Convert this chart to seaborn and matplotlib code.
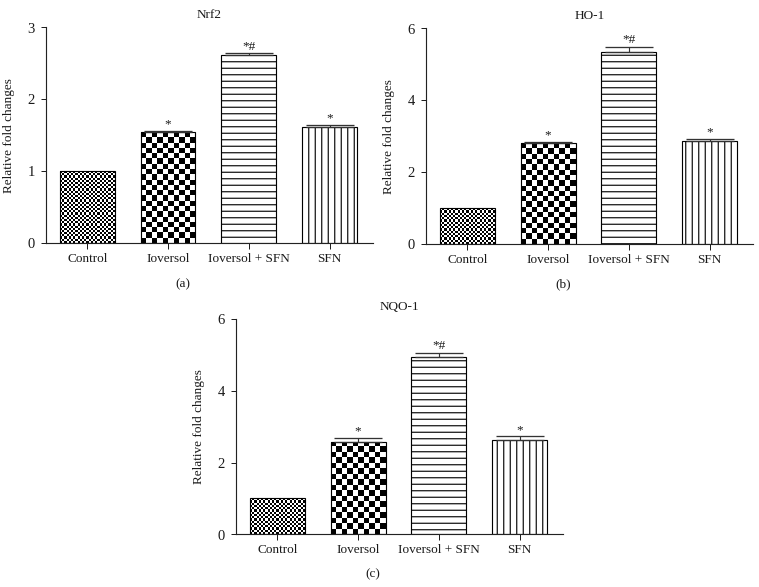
import numpy as np
import matplotlib
matplotlib.use("Agg")
import matplotlib.pyplot as plt
import seaborn as sns

# Data
groups = ['Control', 'Ioversol', 'Ioversol + SFN', 'SFN']
stars = ['', '*', '*#', '*']

nrf2 = [1.0, 1.54, 2.61, 1.61]
nrf2_err = [0.0, 0.02, 0.03, 0.03]
ho1 = [1.0, 2.80, 5.33, 2.86]
ho1_err = [0.0, 0.03, 0.16, 0.06]
nqo1 = [1.0, 2.57, 4.94, 2.64]
nqo1_err = [0.0, 0.11, 0.12, 0.09]

DPI = 117
sns.set_style("ticks")
plt.rcParams['font.family'] = ['Liberation Serif', 'DejaVu Serif']
plt.rcParams['hatch.linewidth'] = 0.7
plt.rcParams['hatch.color'] = 'black'

fig = plt.figure(figsize=(759.3 / DPI, 587.3 / DPI), dpi=DPI)
txt = '#1a1a1a'
fs = 8.2


def checker(ax, patch, cell_px):
    # fill a bar with a black/white checkerboard, clipped to the bar
    x0, y0 = patch.get_x(), patch.get_y()
    x1, y1 = x0 + patch.get_width(), y0 + patch.get_height()
    (px0, py0), (px1, py1) = ax.transData.transform([(x0, y0), (x1, y1)])
    nx = max(1, int(round(abs(px1 - px0) / cell_px)))
    ny = max(1, int(round(abs(py1 - py0) / cell_px)))
    ii, jj = np.indices((ny, nx))
    board = (ii + jj) % 2
    im = ax.imshow(board, cmap='gray', extent=(x0, x1, y0, y1), origin='lower',
                   interpolation='nearest', aspect='auto', zorder=patch.get_zorder() - 0.1)
    im.set_clip_path(patch)
    patch.set_facecolor('none')


def panel(rect, vals, errs, title, ymax, yticks, label, label_x, label_y):
    ax = fig.add_axes(rect)
    sns.barplot(x=groups, y=vals, ax=ax, color='white', edgecolor='black',
                linewidth=0.7, width=0.68, errorbar=None)
    ax.set_xlim(-0.51, 3.54)
    ax.set_ylim(0, ymax)
    ax.set_yticks(yticks)

    bars = ax.patches
    checker(ax, bars[0], 2.2)
    checker(ax, bars[1], 5.3)
    bars[2].set_hatch('---')
    bars[3].set_hatch('|||')

    for b, v, e, s in zip(bars, vals, errs, stars):
        cx = b.get_x() + b.get_width() / 2
        if e > 0:
            ax.errorbar(cx, v, yerr=[[0], [e]], fmt='none', ecolor='#333333',
                        elinewidth=0.7, capsize=15, capthick=0.8, zorder=5)
        if s:
            ax.annotate(s, (cx, v + e), xytext=(0, 0.5), textcoords='offset points',
                        ha='center', va='bottom', fontsize=fs, color=txt)

    sns.despine(ax=ax)
    for sp in ['left', 'bottom']:
        ax.spines[sp].set_linewidth(0.7)
        ax.spines[sp].set_color('#222222')
    ax.tick_params(axis='y', length=3, width=0.6, pad=4, labelsize=fs + 0.8, colors=txt)
    ax.tick_params(axis='x', length=3.5, width=0.6, pad=2.5, labelsize=fs, colors=txt)
    ax.set_ylabel('Relative fold changes', fontsize=fs, color=txt)
    ax.yaxis.set_label_coords(-0.095, 0.5)
    ax.set_title(title, fontsize=fs, color=txt, pad=6)
    fig.text(label_x / 759, 1 - label_y / 587, label, ha='center', va='center',
             fontsize=fs, color=txt)
    return ax


W, H = 327 / 759, 215 / 587
panel([46 / 759, 1 - 242.7 / 587, W, H], nrf2, nrf2_err, 'Nrf2', 3, [0, 1, 2, 3], '(a)', 183, 284)
panel([426 / 759, 1 - 243.7 / 587, W, H], ho1, ho1_err, 'HO-1', 6, [0, 2, 4, 6], '(b)', 563, 284)
panel([236 / 759, 1 - 534.3 / 587, W, H], nqo1, nqo1_err, 'NQO-1', 6, [0, 2, 4, 6], '(c)', 373, 574)

fig.savefig('out.png', dpi=DPI, facecolor='white')
